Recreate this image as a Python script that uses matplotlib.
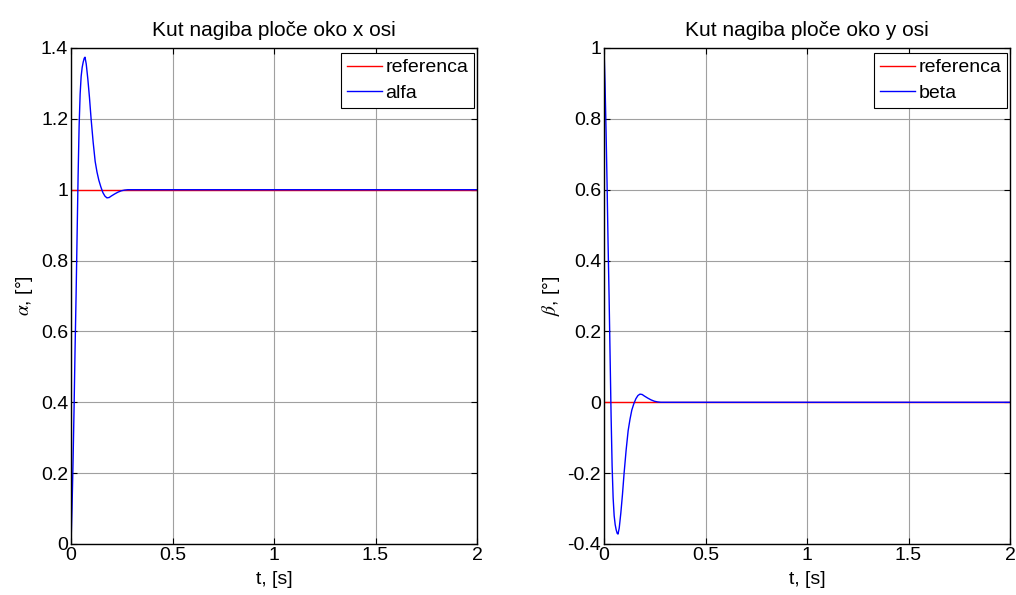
import matplotlib
matplotlib.use("Agg")
import matplotlib.pyplot as plt
from matplotlib.ticker import FuncFormatter, MultipleLocator

plt.rcParams["font.family"] = ["Liberation Sans", "DejaVu Sans"]
plt.rcParams["mathtext.fontset"] = "stix"

# ---- data -----------------------------------------------------------------
t_ref = [0.0, 2.0]
alpha_ref = [1.0, 1.0]
beta_ref = [0.0, 0.0]

t = [0.0, 0.005, 0.010, 0.015, 0.020, 0.025, 0.030, 0.035, 0.040, 0.045,
     0.050, 0.055, 0.060, 0.065, 0.069, 0.075, 0.083, 0.091, 0.099, 0.109,
     0.119, 0.128, 0.137, 0.147, 0.157, 0.167, 0.177, 0.188, 0.198, 0.215,
     0.231, 0.248, 0.264, 0.280, 0.300, 2.0]
alfa = [0.0, 0.10, 0.23, 0.38, 0.55, 0.70, 0.87, 1.04, 1.18, 1.27,
        1.32, 1.345, 1.360, 1.371, 1.374, 1.355, 1.312, 1.260, 1.200, 1.135,
        1.080, 1.050, 1.027, 1.008, 0.992, 0.982, 0.977, 0.978, 0.982, 0.988,
        0.993, 0.997, 0.999, 1.0, 1.0, 1.0]
beta = [1.0, 0.90, 0.77, 0.62, 0.45, 0.30, 0.13, -0.04, -0.18, -0.27,
        -0.32, -0.345, -0.360, -0.370, -0.372, -0.355, -0.312, -0.260, -0.200, -0.135,
        -0.080, -0.048, -0.022, -0.004, 0.010, 0.019, 0.023, 0.022, 0.018, 0.012,
        0.007, 0.003, 0.001, 0.0, 0.0, 0.0]

panels = [
    ("Kut nagiba ploče oko x osi", r"$\alpha$, [°]", alfa, alpha_ref, "alfa", (0, 1.4)),
    ("Kut nagiba ploče oko y osi", r"$\beta$, [°]", beta, beta_ref, "beta", (-0.4, 1.0)),
]

fig = plt.figure(figsize=(10.16, 5.95), dpi=100)
lefts = [71 / 1016, 604 / 1016]
width = 406 / 1016
bottom = 1 - 544 / 595
height = 496 / 595

fmt = FuncFormatter(lambda v, _: f"{v:g}")
fs = 14

for left, (title, ylab, y, yref, name, ylim) in zip(lefts, panels):
    ax = fig.add_axes([left, bottom, width, height])
    ax.plot(t_ref, yref, color="#ff0000", lw=1.0, label="referenca")
    ax.plot(t, y, color="#0000ff", lw=1.0, label=name)
    ax.set_xlim(0, 2)
    ax.set_ylim(*ylim)
    ax.xaxis.set_major_locator(MultipleLocator(0.5))
    ax.yaxis.set_major_locator(MultipleLocator(0.2))
    ax.xaxis.set_major_formatter(fmt)
    ax.yaxis.set_major_formatter(fmt)
    ax.tick_params(direction="in", length=4, width=0.8, labelsize=fs,
                   top=True, right=True, pad=2)
    ax.grid(True, color="#a0a0a0", lw=0.8)
    ax.set_axisbelow(True)
    for s in ax.spines.values():
        s.set_linewidth(1.0)
    ax.set_title(title, fontsize=15, pad=9)
    ax.set_xlabel("t, [s]", fontsize=fs, labelpad=5)
    ax.set_ylabel(ylab, fontsize=fs, labelpad=4)
    leg = ax.legend(loc="upper right", bbox_to_anchor=(0.993, 0.99),
                    borderaxespad=0, fancybox=False, framealpha=1,
                    edgecolor="black", fontsize=fs, handlelength=1.8,
                    handletextpad=0.2, labelspacing=0.4, borderpad=0.3)
    leg.get_frame().set_linewidth(0.8)

fig.savefig("out.png", dpi=100)
